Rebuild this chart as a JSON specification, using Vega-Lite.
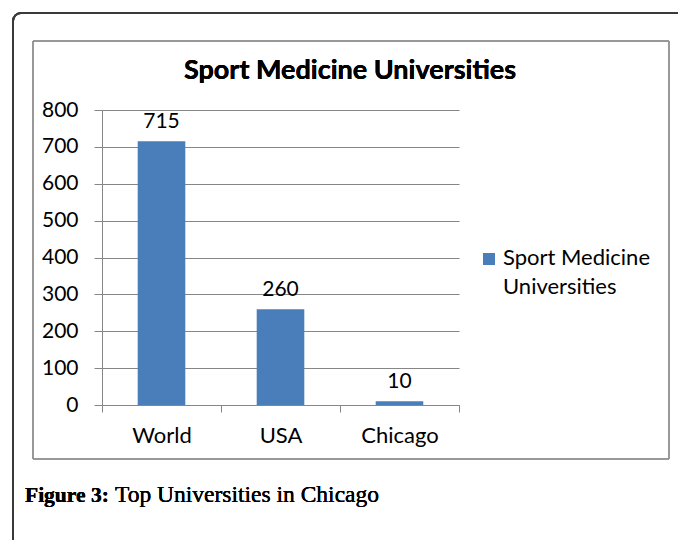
{
  "$schema": "https://vega.github.io/schema/vega-lite/v6.json",
  "width": 357,
  "height": 295,
  "autosize": {"type": "none"},
  "padding": {"left": 102, "top": 110, "right": 219, "bottom": 135},
  "background": "white",
  "config": {"view": {"stroke": null}, "font": "Lato"},
  "data": {"values": [
    {"region": "World", "count": 715, "series": "Sport Medicine Universities"},
    {"region": "USA", "count": 260, "series": "Sport Medicine Universities"},
    {"region": "Chicago", "count": 10, "series": "Sport Medicine Universities"}
  ]},
  "resolve": {"scale": {"x": "independent"}, "axis": {"x": "independent", "y": "independent"}},
  "layer": [
    {
      "mark": {"type": "rect", "fill": null, "stroke": "#3a3a3a", "strokeWidth": 2, "cornerRadius": 8},
      "encoding": {
        "x": {"datum": -0.2493, "type": "quantitative", "scale": {"domain": [0, 1], "nice": false, "zero": false}, "axis": null},
        "x2": {"datum": 1.7},
        "y": {"datum": 1063, "type": "quantitative", "scale": {"domain": [0, 800], "nice": false}, "axis": null},
        "y2": {"datum": -440}
      }
    },
    {
      "mark": {"type": "rect", "fill": null, "stroke": "#8a8a8a", "strokeWidth": 1},
      "encoding": {
        "x": {"datum": -0.1933, "type": "quantitative", "scale": {"domain": [0, 1], "nice": false, "zero": false}, "axis": null},
        "x2": {"datum": 1.5882},
        "y": {"datum": 987.1, "type": "quantitative", "scale": {"domain": [0, 800], "nice": false}, "axis": null},
        "y2": {"datum": -146.4}
      }
    },
    {
      "mark": {"type": "bar", "width": {"band": 0.4}},
      "encoding": {
        "x": {"field": "region", "type": "nominal", "sort": null,
          "scale": {"type": "band", "paddingInner": 0, "paddingOuter": 0},
          "axis": {"title": null, "labelAngle": 0, "tickBand": "extent", "tickSize": 7, "tickColor": "#868686", "domainColor": "#868686", "labelFontSize": 22, "labelFont": "Lato", "labelColor": "#000000", "labelPadding": 13, "grid": false}},
        "y": {"field": "count", "type": "quantitative",
          "scale": {"domain": [0, 800], "nice": false},
          "axis": {"title": null, "values": [0, 100, 200, 300, 400, 500, 600, 700, 800], "grid": true, "gridColor": "#868686", "domainColor": "#868686", "tickColor": "#868686", "tickSize": 8, "labelFontSize": 21, "labelFont": "Lato", "labelColor": "#000000", "labelPadding": 16}},
        "color": {"field": "series", "type": "nominal", "scale": {"range": ["#4a7ebb"]},
          "legend": {"title": null, "orient": "none", "legendX": 376, "legendY": 138, "padding": 0,
            "symbolType": "square", "symbolSize": 144, "symbolStrokeWidth": 0, "labelFontSize": 22, "labelFont": "Lato", "labelColor": "#000000", "labelOffset": 3, "labelLimit": 300,
            "labelExpr": "['Sport Medicine', 'Universities']",
            "labelBaseline": "top",
            "encode": {"labels": {"update": {"lineHeight": {"value": 29}, "dy": {"value": -11}}}}}}
      }
    },
    {
      "mark": {"type": "text", "baseline": "alphabetic", "dy": -13, "fontSize": 21, "font": "Lato", "color": "#000000"},
      "encoding": {
        "x": {"field": "region", "type": "nominal", "sort": null, "scale": {"type": "band", "paddingInner": 0, "paddingOuter": 0}, "axis": null},
        "y": {"field": "count", "type": "quantitative", "scale": {"domain": [0, 800], "nice": false}, "axis": null},
        "text": {"field": "count", "type": "quantitative"}
      }
    },
    {
      "mark": {"type": "text", "baseline": "alphabetic", "align": "center", "fontSize": 27, "fontWeight": "bold", "font": "Lato", "color": "#000000"},
      "encoding": {
        "x": {"datum": 0.6947, "type": "quantitative", "scale": {"domain": [0, 1], "nice": false, "zero": false}, "axis": null},
        "y": {"datum": 884.07, "type": "quantitative", "scale": {"domain": [0, 800], "nice": false}, "axis": null},
        "text": {"value": "Sport Medicine Universities"}
      }
    },
    {
      "mark": {"type": "text", "baseline": "alphabetic", "align": "left", "fontSize": 21.5, "fontWeight": "bold", "font": "Liberation Serif", "color": "#000000"},
      "encoding": {
        "x": {"datum": -0.2157, "type": "quantitative", "scale": {"domain": [0, 1], "nice": false, "zero": false}, "axis": null},
        "y": {"datum": -263.05, "type": "quantitative", "scale": {"domain": [0, 800], "nice": false}, "axis": null},
        "text": {"value": "Figure 3:"}
      }
    },
    {
      "mark": {"type": "text", "baseline": "alphabetic", "align": "left", "fontSize": 23.5, "font": "Liberation Serif", "color": "#000000"},
      "encoding": {
        "x": {"datum": 0.0364, "type": "quantitative", "scale": {"domain": [0, 1], "nice": false, "zero": false}, "axis": null},
        "y": {"datum": -263.05, "type": "quantitative", "scale": {"domain": [0, 800], "nice": false}, "axis": null},
        "text": {"value": "Top Universities in Chicago"}
      }
    }
  ]
}
